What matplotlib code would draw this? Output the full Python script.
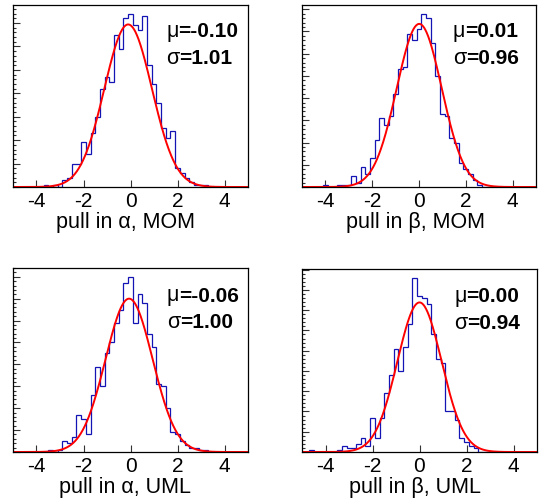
import numpy as np
import matplotlib
matplotlib.use("Agg")
import matplotlib.pyplot as plt
from matplotlib.ticker import MultipleLocator, FixedLocator

plt.rcParams['font.family'] = ['Liberation Sans', 'DejaVu Sans']
plt.rcParams['axes.unicode_minus'] = False

# ---------------- data ----------------
bin_width = 0.2
x_ticks = [-4, -2, 0, 2, 4]

# pull in alpha, MOM  (counts per bin, first bin centre = start)
alpha_mom_start = -3.6
alpha_mom_counts = [1, 0, 1, 0, 3, 4, 10, 10, 19, 14, 23, 30, 42, 47, 45, 65, 59, 72,
                    74, 69, 67, 73, 52, 44, 36, 25, 21, 24, 8, 6, 4, 2, 1, 1, 1]
alpha_mom_fit = dict(mu=-0.10, sigma=1.01, peak=69.4)

# pull in beta, MOM
beta_mom_start = -4.0
beta_mom_counts = [1, 0, 0, 1, 1, 1, 5, 2, 9, 6, 13, 21, 31, 28, 32, 42, 53, 54, 69, 66,
                   71, 78, 76, 65, 50, 33, 32, 22, 20, 11, 8, 6, 3, 1]
beta_mom_fit = dict(mu=0.01, sigma=0.96, peak=73.4)

# pull in alpha, UML
alpha_uml_start = -3.4
alpha_uml_counts = [1, 0, 1, 5, 4, 7, 17, 15, 8, 26, 39, 30, 45, 50, 59, 65, 77,
                    80, 59, 72, 68, 54, 48, 31, 30, 20, 9, 8, 5, 3, 2, 2, 1, 1]
alpha_uml_fit = dict(mu=-0.06, sigma=1.00, peak=70.0)

# pull in beta, UML
beta_uml_start = -4.6
beta_uml_counts = [1, 0, 0, 0, 0, 0, 1, 3, 2, 2, 4, 7, 3, 17, 7, 17, 29, 38, 51, 40, 52,
                   63, 86, 77, 76, 73, 58, 46, 44, 20, 20, 16, 7, 5, 3, 2]
beta_uml_fit = dict(mu=0.00, sigma=0.94, peak=73.8)

xlabels = ["pull in \u03b1, MOM", "pull in \u03b2, MOM", "pull in \u03b1, UML", "pull in \u03b2, UML"]

panels = [
    (alpha_mom_start, alpha_mom_counts, alpha_mom_fit, xlabels[0]),
    (beta_mom_start, beta_mom_counts, beta_mom_fit, xlabels[1]),
    (alpha_uml_start, alpha_uml_counts, alpha_uml_fit, xlabels[2]),
    (beta_uml_start, beta_uml_counts, beta_uml_fit, xlabels[3]),
]

# ---------------- layout (pixels) ----------------
W, H = 541, 501
boxes = [  # left, right, top, bottom
    (13, 248, 5, 187),
    (302, 536, 5, 187),
    (13, 248, 268, 452),
    (302, 537, 269, 452),
]
stat_pos = [(166, 37, 64), (453, 37, 64), (167, 301.5, 328.5), (454, 302, 329)]
label_pos = [(125, 228), (415, 228), (125, 493), (415, 493)]

fig = plt.figure(figsize=(W / 100, H / 100), dpi=100)
fig.patch.set_facecolor('white')
renderer = fig.canvas.get_renderer()

def px2fig(x, y):
    return x / W, 1 - y / H

def sym_then_bold(xpx, ypx, sym, rest):
    fx, fy = px2fig(xpx, ypx)
    t = fig.text(fx, fy, sym, fontsize=15.5, ha='left', va='baseline')
    bb = t.get_window_extent(renderer=renderer)
    fig.text(bb.x1 / W + 0.2 / W, fy, rest, fontsize=15, fontweight='bold',
             ha='left', va='baseline')

for (start, counts, fit, xlab), (l, r, t, b), (sx, sy1, sy2), (lx, ly) in zip(
        panels, boxes, stat_pos, label_pos):
    ax = fig.add_axes([l / W, 1 - b / H, (r - l) / W, (b - t) / H])
    counts = np.asarray(counts, dtype=float)
    edges = start - bin_width / 2 + bin_width * np.arange(len(counts) + 1)
    ax.stairs(counts, edges, color='#1414b4', lw=0.9, baseline=0, zorder=2)
    ax.plot([-5, edges[0]], [0, 0], color='#1414b4', lw=0.9, zorder=2)
    ax.plot([edges[-1], 5], [0, 0], color='#1414b4', lw=0.9, zorder=2)

    xs = np.linspace(-5, 5, 600)
    ys = fit['peak'] * np.exp(-(xs - fit['mu']) ** 2 / (2 * fit['sigma'] ** 2))
    ax.plot(xs, ys, color='#ff0000', lw=1.4, zorder=3)

    ax.set_xlim(-5, 5)
    ax.set_ylim(0, 1.05 * counts.max())

    ax.xaxis.set_major_locator(FixedLocator(x_ticks))
    ax.set_xticklabels([str(v) for v in x_ticks])
    ax.yaxis.set_major_locator(MultipleLocator(10))
    ax.yaxis.set_minor_locator(MultipleLocator(2))
    ax.tick_params(axis='x', which='major', direction='in', length=5, width=0.8,
                   bottom=True, top=False, labelsize=15, pad=3.5, colors='#333333',
                   labelcolor='black')
    ax.tick_params(axis='y', which='major', direction='in', length=5, width=0.8,
                   left=True, right=False, labelleft=False, colors='#333333')
    ax.tick_params(axis='y', which='minor', direction='in', length=2.5, width=0.8,
                   left=True, right=False, colors='#333333')
    for sp in ax.spines.values():
        sp.set_linewidth(0.9)
        sp.set_color('black')
        sp.set_zorder(5)

    sym_then_bold(sx, sy1, "\u03bc", "=%.2f" % fit['mu'])
    sym_then_bold(sx, sy2, "\u03c3", "=%.2f" % fit['sigma'])

    fx, fy = px2fig(lx, ly)
    fig.text(fx, fy, xlab, fontsize=15.5, ha='center', va='baseline')

fig.savefig('out.png', dpi=100, facecolor='white')
